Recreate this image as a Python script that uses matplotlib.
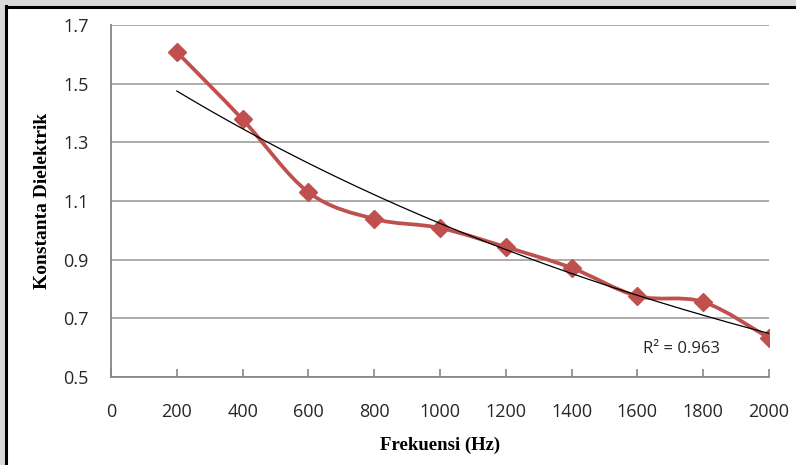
import numpy as np
import matplotlib
matplotlib.use('Agg')
import matplotlib.pyplot as plt
from matplotlib.path import Path
from matplotlib.patches import PathPatch, Rectangle
from matplotlib.lines import Line2D

# ── Data ───────────────────────────────────────────────
freq = [200, 400, 600, 800, 1000, 1200, 1400, 1600, 1800, 2000]
konstanta = [1.608, 1.378, 1.130, 1.039, 1.008, 0.943, 0.872, 0.776, 0.756, 0.633]
r2_text = 'R² = 0.963'

RED = '#C0504D'
GRID = '#A6A6A6'
AXIS = '#868686'
TXT = '#262626'

fig = plt.figure(figsize=(7.96, 4.65), dpi=100, facecolor='white')
ax = fig.add_axes([111/796, 88/465, 658/796, 352/465])
ax.set_facecolor('white')

# smoothed line (Catmull-Rom -> cubic Bezier), like Excel "smoothed line"
x = np.array(freq, float); y = np.array(konstanta, float)
verts = [(x[0], y[0])]; codes = [Path.MOVETO]
n = len(x)
for i in range(n - 1):
    x0, y0 = (x[i-1], y[i-1]) if i > 0 else (x[i], y[i])
    x3, y3 = (x[i+2], y[i+2]) if i + 2 < n else (x[i+1], y[i+1])
    c1 = (x[i] + (x[i+1] - x0) / 6, y[i] + (y[i+1] - y0) / 6)
    c2 = (x[i+1] - (x3 - x[i]) / 6, y[i+1] - (y3 - y[i]) / 6)
    verts += [c1, c2, (x[i+1], y[i+1])]
    codes += [Path.CURVE4] * 3
ax.add_patch(PathPatch(Path(verts, codes), facecolor='none', edgecolor=RED,
                       lw=2.7, capstyle='round', joinstyle='round', zorder=3))
ax.plot(freq, konstanta, linestyle='none', marker='D', ms=9,
        color=RED, mec=RED, zorder=4)

# exponential trendline
b, a = np.polyfit(x, np.log(y), 1)
xt = np.linspace(x.min(), x.max(), 200)
ax.plot(xt, np.exp(a + b * xt), color='black', lw=0.9, zorder=5)
ax.text(1618, 0.594, r2_text, fontsize=12, color=TXT, va='center',
        family='Open Sans')

# axes styling
ax.set_xlim(0, 2000)
ax.set_ylim(0.5, 1.7)
ax.set_xticks(np.arange(0, 2001, 200))
ax.set_yticks(np.arange(0.5, 1.71, 0.2))
ax.set_yticklabels([f'{v:.1f}' for v in np.arange(0.5, 1.71, 0.2)])
ax.yaxis.grid(True, color=GRID, lw=1.3)
ax.set_axisbelow(True)
for s in ['top', 'right']:
    ax.spines[s].set_visible(False)
for s in ['left', 'bottom']:
    ax.spines[s].set_color(AXIS)
    ax.spines[s].set_linewidth(1.3)
ax.tick_params(axis='x', direction='in', length=6, width=1.2, color=AXIS,
               pad=19, labelsize=13, labelcolor=TXT)
ax.tick_params(axis='y', length=0, pad=16, labelsize=13, labelcolor=TXT)
for lb in ax.get_xticklabels() + ax.get_yticklabels():
    lb.set_family('Open Sans')

ax.set_xlabel('Frekuensi (Hz)', family='Liberation Serif', fontweight='bold',
              fontsize=13.5, color='black', labelpad=11)
ax.set_ylabel('Konstanta Dielektrik', family='Liberation Serif', fontweight='bold',
              fontsize=14, color='black', labelpad=9)

# page frame (gray margins + black border on top / left)
fig.patches.append(Rectangle((0, 0), 5/796, 1, transform=fig.transFigure,
                             color='#D9D9D9', zorder=0))
fig.patches.append(Rectangle((0, 1 - 6/465), 1, 6/465, transform=fig.transFigure,
                             color='#D9D9D9', zorder=0))
fig.lines.append(Line2D([6/796, 6/796], [0, 1 - 6/465], transform=fig.transFigure,
                        color='black', lw=2.2))
fig.lines.append(Line2D([6/796, 1], [1 - 7/465, 1 - 7/465], transform=fig.transFigure,
                        color='black', lw=2.2))

fig.savefig('out.png', dpi=100)
